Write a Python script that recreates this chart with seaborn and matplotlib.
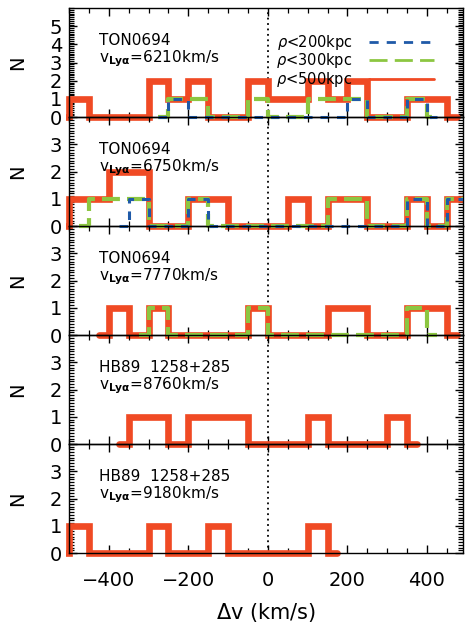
import numpy as np
import matplotlib
matplotlib.use('Agg')
import matplotlib.pyplot as plt
import seaborn as sns
from matplotlib.lines import Line2D
from matplotlib.ticker import MultipleLocator
from matplotlib.transforms import Bbox, TransformedBbox

# 50 km/s bins, counts listed from the first bin centre of each histogram
binsize = 50
qso = ['TON0694', 'TON0694', 'TON0694', 'HB89  1258+285', 'HB89  1258+285']
v_lya = [6210, 6750, 7770, 8760, 9180]

# rho < 500 kpc
red_start = [-525, -525, -425, -375, -525]
red_counts = [
    [0, 1, 0, 0, 0, 2, 1, 2, 0, 0, 2, 1, 1, 2, 1, 2, 0, 0, 1, 1, 0],
    [0, 1, 1, 2, 2, 0, 0, 1, 1, 0, 0, 0, 1, 0, 1, 1, 0, 0, 1, 0, 1, 1],
    [0, 1, 0, 1, 0, 0, 0, 0, 1, 0, 0, 0, 1, 1, 0, 0, 1, 1, 0],
    [0, 1, 1, 0, 1, 1, 1, 0, 0, 0, 1, 0, 0, 0, 1, 0],
    [0, 1, 0, 0, 0, 1, 0, 0, 1, 0, 0, 0, 0, 1, 0],
]
# rho < 300 kpc
green_start = [-275, -475, -325, None, None]
green_counts = [
    [0, 1, 1, 0, 0, 1, 0, 0, 1, 1, 1, 0, 0, 1, 0],
    [0, 1, 1, 1, 0, 0, 1, 0, 0, 0, 0, 0, 0, 1, 1, 0, 0, 1, 0, 1, 1],
    [0, 1, 0, 0, 0, 0, 1, 0, 0, 0, 0, 0, 0, 0, 1, 0],
    None,
    None,
]
# rho < 200 kpc
blue_start = [-275, -375, None, None, None]
blue_counts = [
    [0, 1, 0, 0, 0, 0, 0, 0, 0, 0, 1, 0, 0, 1, 0],
    [0, 1, 0, 0, 1, 0, 0, 0, 0, 0, 0, 0, 0, 0, 0, 1, 0, 1, 1],
    None,
    None,
    None,
]

red = '#F04A24'
green = '#8CC641'
blue = '#1F5AA8'

sns.set_style('ticks')
plt.rcParams['font.family'] = ['DejaVu Sans']
plt.rcParams['mathtext.fontset'] = 'dejavusans'
plt.rcParams['text.color'] = 'black'
plt.rcParams['axes.labelcolor'] = 'black'
plt.rcParams['xtick.color'] = 'black'
plt.rcParams['ytick.color'] = 'black'

fig, axes = plt.subplots(5, 1, figsize=(4.66, 6.28), dpi=100, sharex=True)
fig.subplots_adjust(left=0.148, right=0.993, top=0.987, bottom=0.1194, hspace=0)

for i, ax in enumerate(axes):
    ax.set_facecolor('none')
    ymax = 6 if i == 0 else 4

    series = [
        (red_start[i], red_counts[i], red, 4.8, '-', 2),
        (green_start[i], green_counts[i], green, 3.0, (0, (4.3, 1.7)), 3),
        (blue_start[i], blue_counts[i], blue, 2.2, (0, (2.8, 2.6)), 4),
    ]
    for start, counts, col, lw, ls, z in series:
        if counts is None:
            continue
        x = start + binsize * np.arange(len(counts))
        sns.lineplot(x=x, y=counts, ax=ax, color=col, linewidth=lw, linestyle=ls,
                     drawstyle='steps-mid', zorder=z, solid_joinstyle='miter',
                     dash_capstyle='butt')

    # let the thick lines spill below the zero line like the original
    clip = TransformedBbox(Bbox([[-508, -0.7], [490, ymax]]), ax.transData)
    for line in ax.lines:
        line.set_clip_path(None)
        line.set_clip_box(clip)

    ax.axvline(0, color='k', linestyle=(0, (1, 2)), linewidth=1.3, zorder=1.5)

    ax.set_xlim(-500, 490)
    ax.set_ylim(0, ymax)
    ax.set_yticks(range(ymax))
    ax.yaxis.set_minor_locator(MultipleLocator(0.1))
    ax.xaxis.set_major_locator(MultipleLocator(200))
    ax.xaxis.set_minor_locator(MultipleLocator(50))
    ax.tick_params(which='both', direction='in', top=True, right=True,
                   left=True, bottom=True, color='k')
    ax.tick_params(which='major', length=6, width=1)
    ax.tick_params(which='minor', length=3.5, width=0.9)
    ax.tick_params(axis='y', labelsize=14, pad=5)
    ax.tick_params(axis='x', labelsize=14, pad=13)
    for s in ax.spines.values():
        s.set_linewidth(1.0)
        s.set_color('k')

    ax.set_ylabel('N', fontsize=14)
    ax.yaxis.set_label_coords(-0.105, 0.5)

    ax.text(0.076, 0.66, qso[i], transform=ax.transAxes, fontsize=11, va='baseline')
    ax.text(0.076, 0.505, r'v$_{\mathbf{Ly\alpha}}$=%dkm/s' % v_lya[i],
            transform=ax.transAxes, fontsize=11, va='baseline')

handles = [
    Line2D([], [], color=blue, linewidth=2, linestyle=(0, (3.3, 2.9))),
    Line2D([], [], color=green, linewidth=2, linestyle=(0, (6.5, 2.6))),
    Line2D([], [], color=red, linewidth=2),
]
labels = [r'$\rho$<200kpc', r'$\rho$<300kpc', r'$\rho$<500kpc']
axes[0].legend(handles, labels, loc='upper left', bbox_to_anchor=(0.527, 0.77),
               frameon=False, markerfirst=False, fontsize=10.5, handlelength=4.5,
               handletextpad=1.1, labelspacing=-0.05, borderpad=0, borderaxespad=0)

axes[-1].set_xlabel(r'$\Delta$v (km/s)', fontsize=15)
axes[-1].xaxis.set_label_coords(0.5, -0.44)

plt.savefig('out.png', dpi=100)
